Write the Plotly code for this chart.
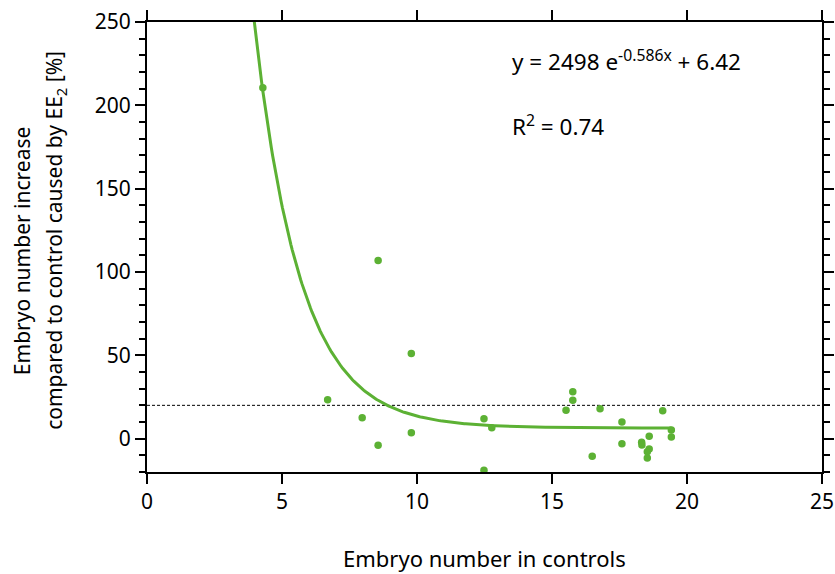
import numpy as np
import plotly.graph_objects as go

# Data
x_ctrl = [4.29, 8.56, 9.79, 6.69, 7.97, 8.56, 9.79, 12.48, 12.77, 12.48,
          15.77, 15.77, 15.52, 16.78, 19.10, 17.59, 17.59, 19.42, 19.42,
          18.60, 18.32, 18.33, 18.60, 18.53, 18.53, 16.49]
y_incr = [210.6, 106.9, 51.1, 23.4, 12.6, -4.0, 3.6, 12.0, 6.6, -19.0,
          28.2, 23.0, 17.0, 18.0, 16.8, 10.0, -3.0, 5.2, 1.0,
          1.4, -2.2, -3.8, -6.2, -7.8, -11.6, -10.6]

# Fit parameters
fit_a, fit_b, fit_c = 2498.0, -0.586, 6.42
fit_x_start, fit_x_end = 3.93, 19.42
threshold = 20

x_ticks = [0, 5, 10, 15, 20, 25]
y_ticks = [0, 50, 100, 150, 200, 250]

green = "#5cb134"
font_family = "Noto Sans"

xf = np.linspace(fit_x_start, fit_x_end, 300)
yf = fit_a * np.exp(fit_b * xf) + fit_c

fig = go.Figure()
fig.add_trace(go.Scatter(x=[0, 25], y=[threshold, threshold], mode="lines",
                         line=dict(color="black", width=1, dash="3px,2px"),
                         hoverinfo="skip", showlegend=False))
fig.add_trace(go.Scatter(x=xf, y=yf, mode="lines",
                         line=dict(color=green, width=3), showlegend=False))
fig.add_trace(go.Scatter(x=x_ctrl, y=y_incr, mode="markers",
                         marker=dict(color=green, size=7.5), showlegend=False,
                         cliponaxis=False))

fig.update_layout(
    width=835, height=574,
    margin=dict(l=147, r=13, t=22, b=102),
    plot_bgcolor="white", paper_bgcolor="white",
    font=dict(family=font_family, size=21, color="black"),
    xaxis=dict(range=[0, 25], tickvals=x_ticks, ticks="outside", ticklen=10,
               tickwidth=1.5, tickcolor="black", showline=True, linecolor="black",
               linewidth=2, mirror="ticks", showgrid=False, zeroline=False,
               tickfont=dict(size=21), automargin=False),
    yaxis=dict(range=[-20, 250], tickvals=y_ticks, ticks="outside", ticklen=10,
               tickwidth=1.5, tickcolor="black", showline=True, linecolor="black",
               linewidth=2, mirror="ticks", showgrid=False, zeroline=False,
               tickfont=dict(size=21), automargin=False,
               minor=dict(dtick=10, tick0=0, ticks="outside", ticklen=6,
                          tickwidth=1.5, tickcolor="black", showgrid=False)),
    annotations=[
        dict(text="y = 2498 e<sup>-0.586x</sup> + 6.42", x=13.44, y=227,
             xref="x", yref="y", xanchor="left", yanchor="middle",
             showarrow=False, font=dict(size=22.5)),
        dict(text="R<sup>2</sup> = 0.74", x=13.44, y=188,
             xref="x", yref="y", xanchor="left", yanchor="middle",
             showarrow=False, font=dict(size=22.5)),
        dict(text="Embryo number in controls", x=0.5, y=-0.192, xref="paper",
             yref="paper", xanchor="center", yanchor="middle", showarrow=False,
             font=dict(size=22)),
        dict(text="Embryo number increase",
             x=-0.1852, y=0.493, xref="paper", yref="paper", textangle=-90,
             xanchor="center", yanchor="middle", showarrow=False,
             font=dict(size=21)),
        dict(text="compared to control caused by EE<sub>2</sub> [%]",
             x=-0.1363, y=0.516, xref="paper", yref="paper", textangle=-90,
             xanchor="center", yanchor="middle", showarrow=False,
             font=dict(size=21)),
    ],
)

fig.write_html("out.html")
